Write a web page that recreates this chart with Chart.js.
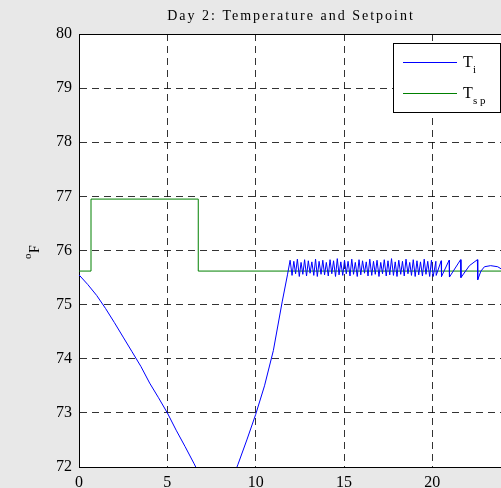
<!DOCTYPE html>
<html>
<head>
<meta charset="utf-8">
<script src="https://cdn.jsdelivr.net/npm/chart.js@4/dist/chart.umd.min.js"></script>
<style>
  html, body { margin: 0; padding: 0; overflow: hidden; background: #e8e8e8; }
  #wrap { width: 501px; height: 488px; overflow: hidden; }
  canvas { display: block; }
</style>
</head>
<body>
<div id="wrap"><canvas id="myChart" width="520" height="488"></canvas></div>
<script>
// Day 2 run: indoor temperature Ti and setpoint Tsp (deg F) over hours
const tiTime = [
    0, 0.5, 1.0, 1.5, 2.0, 2.5, 3.0, 3.5, 4.0, 4.5, 5.0, 5.5, 6.0, 6.5, 7.0, 7.5, 8.0, 8.5, 9.0, 9.5,
    10.0, 10.5, 11.0, 11.5, 11.8,
    11.95,
    12.06, 12.16, 12.26, 12.36, 12.47, 12.57, 12.67, 12.77, 12.88, 12.98,
    13.08, 13.18, 13.29, 13.39, 13.49, 13.59, 13.70, 13.80, 13.90, 14.00,
    14.11, 14.21, 14.31, 14.41, 14.52, 14.62, 14.72, 14.82, 14.93, 15.03,
    15.13, 15.23, 15.34, 15.44, 15.54, 15.64, 15.75, 15.85, 15.95, 16.05,
    16.16, 16.26, 16.36, 16.46, 16.57, 16.67, 16.77, 16.87, 16.98, 17.08,
    17.18, 17.28, 17.39, 17.49, 17.59, 17.69, 17.80, 17.90, 18.00, 18.10,
    18.21, 18.31, 18.41, 18.51, 18.62, 18.72, 18.82, 18.92, 19.03, 19.13,
    19.23, 19.33, 19.44, 19.54, 19.64, 19.74, 19.85, 19.95,
    20.05, 20.20, 20.22, 20.50, 20.52, 20.95, 20.97, 21.6, 21.62, 22.1,
    22.55, 22.57, 22.75, 22.95, 23.3, 23.7, 24.0
];
const tiValue = [
    75.55, 75.37, 75.17, 74.93, 74.67, 74.40, 74.13, 73.86, 73.55, 73.28, 73.00, 72.68, 72.38, 72.07, 71.75, 71.50, 71.40, 71.62, 72.05, 72.50,
    72.97, 73.50, 74.15, 75.05, 75.55,
    75.82,
    75.54, 75.80, 75.57, 75.84, 75.52, 75.78, 75.56, 75.83, 75.53, 75.81,
    75.58, 75.79, 75.54, 75.84, 75.52, 75.80, 75.56, 75.82, 75.55, 75.78,
    75.53, 75.83, 75.57, 75.81, 75.52, 75.85, 75.55, 75.79, 75.54, 75.82,
    75.57, 75.80, 75.53, 75.84, 75.56, 75.78, 75.52, 75.83, 75.55, 75.81,
    75.58, 75.79, 75.53, 75.84, 75.54, 75.80, 75.56, 75.82, 75.52, 75.78,
    75.57, 75.83, 75.53, 75.81, 75.55, 75.85, 75.54, 75.79, 75.52, 75.82,
    75.56, 75.80, 75.53, 75.84, 75.57, 75.78, 75.54, 75.83, 75.52, 75.81,
    75.55, 75.79, 75.53, 75.84, 75.56, 75.80, 75.52, 75.82,
    75.52, 75.80, 75.54, 75.81, 75.52, 75.82, 75.51, 75.83, 75.50, 75.72,
    75.83, 75.46, 75.62, 75.70, 75.72, 75.70, 75.64
];

// setpoint changes (held until the next change)
const spTime = [0, 0.68, 6.75, 24];
const spValue = [75.62, 76.95, 75.62, 75.62];

const xTicks = { min: 0, max: 24, step: 5 };
const yTicks = { min: 72, max: 80, step: 1 };

const serif = "'Liberation Serif', 'DejaVu Serif', serif";

const toPoints = (xs, ys) => xs.map((x, i) => ({ x: x, y: ys[i] }));

const decorations = {
    id: 'decorations',
    beforeDraw(chart) {
        const { ctx, chartArea: a } = chart;
        ctx.save();
        ctx.fillStyle = '#ffffff';
        ctx.fillRect(a.left, a.top, a.right - a.left, a.bottom - a.top);
        ctx.restore();
    },
    afterDraw(chart) {
        const { ctx, chartArea: a } = chart;
        ctx.save();
        // box: top and right edges
        ctx.strokeStyle = '#000';
        ctx.lineWidth = 1;
        ctx.beginPath();
        ctx.moveTo(Math.round(a.left) + 0.5, Math.round(a.top) + 0.5);
        ctx.lineTo(Math.round(a.right) + 0.5, Math.round(a.top) + 0.5);
        ctx.lineTo(Math.round(a.right) + 0.5, Math.round(a.bottom) + 0.5);
        ctx.stroke();

        // title
        ctx.fillStyle = '#000';
        ctx.font = '14px ' + serif;
        ctx.letterSpacing = '2px';
        ctx.textAlign = 'center';
        ctx.textBaseline = 'alphabetic';
        ctx.fillText('Day 2: Temperature and Setpoint', (a.left + a.right) / 2, 20);
        ctx.letterSpacing = '0px';

        // y axis label: superscript o then F, rotated
        ctx.save();
        ctx.translate(39, 259);
        ctx.rotate(-Math.PI / 2);
        ctx.textAlign = 'left';
        ctx.font = '11px ' + serif;
        ctx.fillText('o', 0, -8);
        ctx.font = '14px ' + serif;
        ctx.fillText('F', 6, 0);
        ctx.restore();

        // legend
        ctx.fillStyle = '#fff';
        ctx.fillRect(393.5, 43.5, 107, 69);
        ctx.strokeStyle = '#000';
        ctx.strokeRect(393.5, 43.5, 107, 69);
        const rows = [
            { color: '#0000ff', y: 62, sub: 'i' },
            { color: '#008000', y: 93, sub: 's p' }
        ];
        rows.forEach(r => {
            ctx.strokeStyle = r.color;
            ctx.beginPath();
            ctx.moveTo(403, r.y + 0.5);
            ctx.lineTo(457, r.y + 0.5);
            ctx.stroke();
            ctx.fillStyle = '#000';
            ctx.textAlign = 'left';
            ctx.font = '16px ' + serif;
            ctx.fillText('T', 463, r.y + 5);
            ctx.font = '11px ' + serif;
            ctx.fillText(r.sub, 473, r.y + 11);
        });
        ctx.restore();
    }
};

const myChart = new Chart(document.getElementById('myChart'), {
    type: 'line',
    data: {
        datasets: [
            {
                label: 'Ti',
                data: toPoints(tiTime, tiValue),
                borderColor: '#0000ff',
                borderWidth: 1,
                pointRadius: 0,
                tension: 0
            },
            {
                label: 'Tsp',
                data: toPoints(spTime, spValue),
                borderColor: '#008000',
                borderWidth: 1,
                pointRadius: 0,
                stepped: 'before'
            }
        ]
    },
    options: {
        responsive: false,
        animation: false,
        events: [],
        layout: { padding: { left: 0, top: 34, right: 17, bottom: 0 } },
        plugins: {
            legend: { display: false },
            title: { display: false },
            tooltip: { enabled: false }
        },
        scales: {
            x: {
                type: 'linear',
                min: xTicks.min,
                max: xTicks.max,
                afterFit: s => { s.height = 21; },
                grid: { color: 'rgba(0,0,0,0.8)', lineWidth: 1, drawTicks: false },
                border: { display: true, color: '#000', width: 1, dash: [7, 5] },
                ticks: {
                    stepSize: xTicks.step,
                    includeBounds: false,
                    padding: 6,
                    color: '#000',
                    font: { family: serif, size: 16 },
                    maxRotation: 0
                }
            },
            y: {
                min: yTicks.min,
                max: yTicks.max,
                afterFit: s => { s.width = 79; },
                grid: { color: 'rgba(0,0,0,0.8)', lineWidth: 1, drawTicks: false },
                border: { display: true, color: '#000', width: 1, dash: [7, 5] },
                ticks: {
                    stepSize: yTicks.step,
                    padding: 7,
                    color: '#000',
                    font: { family: serif, size: 16 }
                }
            }
        }
    },
    plugins: [decorations]
});
</script>
</body>
</html>
